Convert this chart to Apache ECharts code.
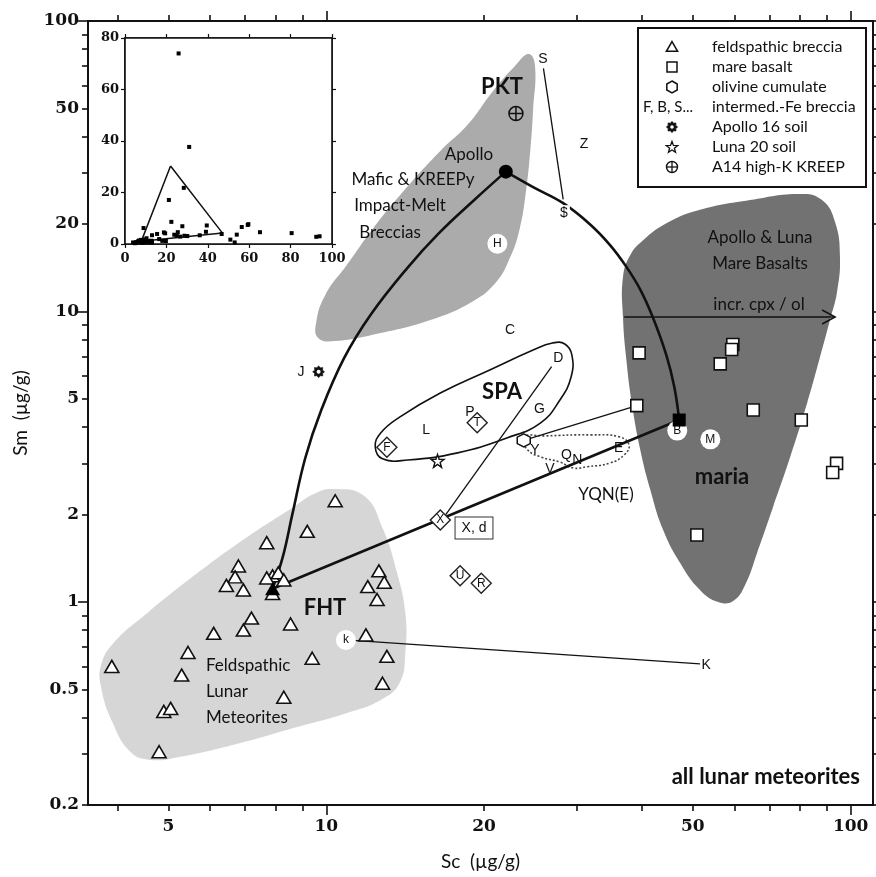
<!DOCTYPE html>
<html>
<head>
<meta charset="utf-8">
<script src="https://cdn.jsdelivr.net/npm/echarts@6/dist/echarts.min.js"></script>
<style>
  html, body { margin: 0; padding: 0; background: #fff; }
  #chart { width: 876px; height: 877px; }
</style>
</head>
<body>
<div id="chart"></div>
<script>
// ---------------------------------------------------------------
// Sc vs Sm (µg/g) in lunar meteorites, log–log, with linear inset
// ---------------------------------------------------------------

// axis ranges and ticks (µg/g)
const scMin = 3.513, scMax = 110.3;
const smMin = 0.2, smMax = 100;
const scMinorTicks = [4, 5, 6, 7, 8, 9, 20, 30, 40, 50, 60, 70, 80, 90];
const scMajorTicks = [10, 100];
const scTickLabels = [5, 10, 20, 50, 100];
const smMinorTicks = [0.2, 0.3, 0.4, 0.5, 0.6, 0.7, 0.8, 0.9, 2, 3, 4, 5, 6, 7, 8, 9, 20, 30, 40, 50, 60, 70, 80, 90];
const smMajorTicks = [1, 10, 100];
const smTickLabels = [0.2, 0.5, 1, 2, 5, 10, 20, 50, 100];

// feldspathic breccias
const feldSc = [10.4, 9.2, 7.7, 6.8, 6.7, 6.45, 6.95, 7.9, 8.1, 8.3, 7.7, 7.9, 12.6, 12.9, 12.0, 12.5,
                7.2, 6.95, 6.1, 8.55, 11.9, 5.45, 3.9, 5.3, 9.4, 13.05, 12.8, 8.3, 4.9, 5.05, 4.8];
const feldSm = [2.23, 1.75, 1.60, 1.33, 1.22, 1.14, 1.10, 1.23, 1.26, 1.19, 1.21, 1.07, 1.28, 1.17, 1.13, 1.02,
                0.88, 0.80, 0.78, 0.84, 0.77, 0.67, 0.60, 0.56, 0.64, 0.65, 0.525, 0.47, 0.42, 0.43, 0.305];

// mare basalts
const mareSc = [39.5, 59.6, 59.3, 56.4, 39.1, 65.2, 80.5, 94.0, 92.4, 50.9];
const mareSm = [7.2, 7.7, 7.4, 6.6, 4.74, 4.58, 4.23, 3.0, 2.79, 1.70];

// olivine cumulate
const olivSc = [23.8];
const olivSm = [3.6];

// intermediate-Fe breccias, labelled by letter
const fePlainNames = ['C', 'D', 'G', 'L', 'P', 'Y', 'Q', 'N', 'V', 'E', 'S', 'Z', '$', 'J', 'K'];
const fePlainSc = [22.4, 27.7, 25.5, 15.5, 18.8, 25.0, 28.7, 30.1, 26.7, 36.1, 25.9, 31.0, 28.4, 8.95, 53.0];
const fePlainSm = [8.6, 6.9, 4.6, 3.9, 4.5, 3.32, 3.2, 3.08, 2.86, 3.38, 74, 37.7, 21.8, 6.2, 0.607];

const feDiamondNames = ['F', 'T', 'X', 'U', 'R'];
const feDiamondSc = [13.05, 19.4, 16.5, 18.0, 19.75];
const feDiamondSm = [3.41, 4.14, 1.915, 1.23, 1.16];

const feCircleNames = ['H', 'k', 'B', 'M'];
const feCircleSc = [21.2, 10.9, 46.7, 54.0];
const feCircleSm = [17.1, 0.74, 3.89, 3.63];

// soils and KREEP
const a16SoilSc = [9.67], a16SoilSm = [6.2];
const l20SoilSc = [16.3], l20SoilSm = [3.06];
const kreepSc = [23.0], kreepSm = [48];

// mixing end members: Apollo mafic melt breccia, feldspathic highlands, mare basalt
const endSc = [22.0, 7.9, 47.1];
const endSm = [30.3, 1.11, 4.23];

// mixing curves
const mixAFSc = [22.0, 19.15, 16.35, 14.27, 12.18, 10.82, 9.78, 9.12, 8.61, 8.28, 7.9];
const mixAFSm = [30.3, 24.2, 18.5, 14.11, 9.80, 6.92, 4.57, 3.13, 1.99, 1.45, 1.11];
const mixAMSc = [22.0, 24.8, 28.3, 31.9, 34.8, 37.3, 39.7, 42.0, 44.5, 46.1, 47.1];
const mixAMSm = [30.3, 26.8, 23.6, 19.9, 16.9, 14.3, 11.9, 9.5, 7.09, 5.5, 4.23];
const mixFMSc = [7.9, 47.1];
const mixFMSm = [1.11, 4.23];

// tie lines between paired samples
const tieSc = [[25.95, 28.3], [26.9, 16.9], [10.9, 51.6], [23.8, 39.1]];
const tieSm = [[68.7, 24.3], [6.46, 2.0], [0.74, 0.612], [3.6, 4.74]];

// "incr. cpx / ol" arrow
const cpxArrowSc = [37.0, 93.4];
const cpxArrowSm = [9.57, 9.57];

// fields
const pktSc = [24.3, 25.0, 24.8, 24.5, 24.05, 23.4, 22.4, 21.0, 18.8, 15.8, 12.7, 10.4, 9.65, 9.57, 9.96, 10.96, 12.3, 14.1, 16.5, 18.6, 20.8, 22.9];
const pktSm = [77.0, 70.6, 49.4, 36.0, 26.2, 19.4, 15.3, 12.5, 10.7, 9.35, 8.43, 7.91, 8.11, 9.2, 11.4, 14.5, 19.4, 26.2, 35.7, 43.9, 57.4, 70.0];
const mariaSc = [80.1, 88.2, 93.4, 95.4, 94.2, 91.3, 87.4, 82.6, 76.7, 71.1, 66.3, 62.9, 59.7, 55.9, 51.6, 47.3, 43.9, 41.5, 39.7, 38.3, 37.3, 36.8, 36.8, 38.0, 40.2, 44.7, 51.6, 64.3];
const mariaSm = [25.4, 24.2, 20.3, 15.5, 11.7, 9.35, 6.97, 4.84, 3.16, 2.12, 1.475, 1.144, 1.008, 1.0, 1.10, 1.363, 1.77, 2.43, 3.34, 4.77, 6.97, 9.57, 13.15, 15.65, 17.6, 20.2, 22.4, 24.2];
const fhtSc = [10.3, 11.8, 12.8, 13.65, 14.15, 14.15, 13.8, 12.7, 10.96, 8.8, 6.86, 5.27, 4.62, 4.23, 3.91, 3.72, 3.72, 3.93, 4.56, 5.68, 7.07, 8.65, 9.45];
const fhtSm = [2.45, 2.32, 1.80, 1.258, 0.917, 0.668, 0.526, 0.46, 0.415, 0.371, 0.327, 0.293, 0.286, 0.305, 0.386, 0.51, 0.607, 0.723, 0.917, 1.258, 1.675, 2.12, 2.35];
const spaSc = [28.5, 29.4, 29.3, 27.9, 25.6, 22.1, 17.8, 14.3, 12.8, 12.4, 12.7, 13.8, 16.5, 20.5, 24.8, 27.0];
const spaSm = [7.73, 7.09, 5.95, 4.96, 4.13, 3.67, 3.26, 3.08, 3.11, 3.42, 3.82, 4.33, 5.24, 6.29, 7.37, 7.79];
const yqnSc = [23.7, 26.2, 31.9, 36.3, 37.8, 37.0, 34.8, 31.4, 29.6, 27.9, 25.6, 24.2];
const yqnSm = [3.70, 3.73, 3.76, 3.70, 3.47, 3.21, 3.01, 2.92, 2.89, 3.03, 3.16, 3.34];

// inset (linear) axis ticks
const insetScTicks = [0, 20, 40, 60, 80, 100];
const insetSmTicks = [0, 20, 40, 60, 80];

// ---------------------------------------------------------------
const L = Math.log10;
const INK = '#111';
const SERIF = 'DejaVu Serif';
const HUMANIST = 'Lato';
const SANS = 'Liberation Sans';

const logPts = (xs, ys) => xs.map((x, i) => [L(x), L(ys[i])]);
const named = (names, xs, ys) => names.map((n, i) => ({ name: n, value: [L(xs[i]), L(ys[i])] }));
const fmtLog = v => String(+Math.pow(10, v).toPrecision(2));

function logAxis(dim, position, ticks, tickLen, labels, nameOpts) {
  const lo = dim === 'x' ? scMin : smMin;
  const hi = dim === 'x' ? scMax : smMax;
  const ax = {
    type: 'value', gridIndex: 0, position,
    min: L(lo), max: L(hi),
    axisLine: { show: true, onZero: false, lineStyle: { color: INK, width: 2 } },
    axisTick: { show: true, inside: false, length: tickLen, customValues: ticks.map(L),
                lineStyle: { color: INK, width: 1.6 } },
    axisLabel: labels ? {
      show: true, customValues: labels.map(L), formatter: fmtLog,
      fontFamily: SERIF, fontWeight: 'bold', fontSize: 17, color: INK,
      margin: dim === 'x' ? 13 : 9
    } : { show: false },
    splitLine: { show: false }
  };
  return Object.assign(ax, nameOpts || {});
}

function linAxis(dim, position, max, ticks, labels) {
  return {
    type: 'value', gridIndex: 1, position, min: 0, max: max,
    axisLine: { show: true, onZero: false, lineStyle: { color: INK, width: 1.6 } },
    axisTick: { show: true, inside: false, length: 4, customValues: ticks, lineStyle: { color: INK, width: 1.2 } },
    axisLabel: labels ? {
      show: true, customValues: ticks,
      fontFamily: SERIF, fontWeight: 'bold', fontSize: 13, color: INK,
      margin: dim === 'x' ? 8 : 6
    } : { show: false },
    splitLine: { show: false }
  };
}

function fieldSeries(xs, ys, style, z) {
  return {
    type: 'custom', coordinateSystem: 'cartesian2d', xAxisIndex: 0, yAxisIndex: 0,
    silent: true, z: z, clip: false,
    data: [[L(xs[0]), L(ys[0])]],
    renderItem: (params, api) => ({
      type: 'polygon',
      shape: { points: xs.map((x, i) => api.coord([L(x), L(ys[i])])), smooth: 0.45 },
      style: style
    })
  };
}

const curve = (xs, ys) => ({
  type: 'line', xAxisIndex: 0, yAxisIndex: 0, data: logPts(xs, ys),
  smooth: 0.4, showSymbol: false, symbol: 'none', silent: true, z: 3,
  lineStyle: { color: INK, width: 2.6 }
});

const letterLabel = size => ({
  show: true, position: 'inside', formatter: p => p.name, opacity: 1,
  fontFamily: SANS, fontSize: size, color: INK
});

// symbol paths
const HEX_PATH = 'path://M8.66,0 L17.32,5 L17.32,15 L8.66,20 L0,15 L0,5 Z';
const STAR_PATH = 'path://M10,0 L12.35,6.76 L19.51,6.91 L13.8,11.24 L15.88,18.09 L10,14 L4.12,18.09 L6.2,11.24 L0.49,6.91 L7.65,6.76 Z';
const CROSS_CIRCLE_PATH = 'path://M0,10 A10,10 0 1 1 20,10 A10,10 0 1 1 0,10 Z M10,0 L10,20 M0,10 L20,10';
function gearPath() {
  let d = '';
  for (let i = 0; i < 16; i++) {
    const r = i % 2 === 0 ? 10 : 7.2;
    const a = Math.PI * 2 * i / 16;
    d += (i === 0 ? 'M' : 'L') + (10 + r * Math.cos(a)).toFixed(2) + ',' + (10 + r * Math.sin(a)).toFixed(2) + ' ';
  }
  return 'path://' + d + 'Z';
}
const GEAR_PATH = gearPath();

// inset points: every meteorite sample on linear scales
const insetSc = [].concat(feldSc, mareSc, olivSc, fePlainSc, feDiamondSc, feCircleSc);
const insetSm = [].concat(feldSm, mareSm, olivSm, fePlainSm, feDiamondSm, feCircleSm);

// ---------------------------------------------------------------
// legend and annotations drawn as graphics
function regPoly(cx, cy, rOut, rIn, n, rot) {
  const pts = [];
  const k = rIn ? 2 * n : n;
  for (let i = 0; i < k; i++) {
    const r = rIn && i % 2 ? rIn : rOut;
    const a = rot + Math.PI * 2 * i / k;
    pts.push([cx + r * Math.cos(a), cy + r * Math.sin(a)]);
  }
  return pts;
}

const legendRows = ['feldspathic breccia', 'mare basalt', 'olivine cumulate', 'intermed.-Fe breccia',
                    'Apollo 16 soil', 'Luna 20 soil', 'A14 high-K KREEP'];
const LG = { x: 638, y: 28, w: 228, h: 159, symX: 672, textX: 712, row0: 47, step: 20 };
const rowY = i => LG.row0 + LG.step * i;
const legendGraphics = [
  { type: 'rect', shape: { x: LG.x, y: LG.y, width: LG.w, height: LG.h },
    style: { fill: '#fff', stroke: INK, lineWidth: 2 }, z: 100 },
  ...legendRows.map((t, i) => ({
    type: 'text', x: LG.textX, y: rowY(i), z: 101,
    style: { text: t, font: '16px ' + HUMANIST, fill: INK, align: 'left', verticalAlign: 'middle' }
  })),
  { type: 'polygon', z: 101, shape: { points: regPoly(LG.symX, rowY(0) + 1, 6.5, 0, 3, -Math.PI / 2) },
    style: { fill: '#fff', stroke: INK, lineWidth: 1.5 } },
  { type: 'rect', z: 101, shape: { x: LG.symX - 5, y: rowY(1) - 5, width: 10, height: 10 },
    style: { fill: '#fff', stroke: INK, lineWidth: 1.5 } },
  { type: 'polygon', z: 101, shape: { points: regPoly(LG.symX, rowY(2), 6, 0, 6, -Math.PI / 2) },
    style: { fill: '#fff', stroke: INK, lineWidth: 1.5 } },
  { type: 'text', x: LG.symX - 4, y: rowY(3), z: 101,
    style: { text: 'F, B, S...', font: '15px ' + HUMANIST, fill: INK, align: 'center', verticalAlign: 'middle' } },
  { type: 'polygon', z: 101, shape: { points: regPoly(LG.symX, rowY(4), 5.5, 4, 8, 0) },
    style: { fill: INK, stroke: INK, lineWidth: 1 } },
  { type: 'circle', z: 102, shape: { cx: LG.symX, cy: rowY(4), r: 1.8 }, style: { fill: '#fff' } },
  { type: 'polygon', z: 101, shape: { points: regPoly(LG.symX, rowY(5) + 0.5, 6, 2.5, 5, -Math.PI / 2) },
    style: { fill: '#fff', stroke: INK, lineWidth: 1.3 } },
  { type: 'circle', z: 101, shape: { cx: LG.symX, cy: rowY(6), r: 5.5 },
    style: { fill: '#fff', stroke: INK, lineWidth: 1.4 } },
  { type: 'polyline', z: 102, shape: { points: [[LG.symX - 5.5, rowY(6)], [LG.symX + 5.5, rowY(6)]] },
    style: { stroke: INK, lineWidth: 1.3 } },
  { type: 'polyline', z: 102, shape: { points: [[LG.symX, rowY(6) - 5.5], [LG.symX, rowY(6) + 5.5]] },
    style: { stroke: INK, lineWidth: 1.3 } }
];

const note = (text, x, y, font, align) => ({
  type: 'text', x, y, z: 90,
  style: { text, font, fill: INK, align: align || 'center', verticalAlign: 'middle' }
});
const REG = '17px ' + HUMANIST;
const BOLD = 'bold 22px ' + HUMANIST;
const annotationGraphics = [
  note('PKT', 502, 87, BOLD),
  note('Apollo', 469, 155, REG),
  note('Mafic & KREEPy', 413, 180, REG),
  note('Impact-Melt', 400, 206, REG),
  note('Breccias', 390, 233, REG),
  note('Apollo & Luna', 760, 238, REG),
  note('Mare Basalts', 760, 264, REG),
  note('incr. cpx / ol', 759, 305, REG),
  note('SPA', 502, 392, BOLD),
  note('maria', 722, 477, BOLD),
  note('YQN(E)', 606, 495, REG),
  note('FHT', 325, 608, BOLD),
  note('Feldspathic', 206, 666, REG, 'left'),
  note('Lunar', 206, 692, REG, 'left'),
  note('Meteorites', 206, 718, REG, 'left'),
  note('all lunar meteorites', 860, 777, BOLD, 'right'),
  { type: 'text', x: 474, y: 528, z: 90,
    style: { text: 'X, d', font: '14px ' + SANS, fill: INK, align: 'center', verticalAlign: 'middle',
             backgroundColor: '#fff', borderColor: '#333', borderWidth: 1, padding: [4, 6, 3, 6] } }
];

const solid = extra => Object.assign({ opacity: 1 }, extra);

// ---------------------------------------------------------------
const chart = echarts.init(document.getElementById('chart'));

chart.setOption({
  animation: false,
  backgroundColor: '#fff',
  grid: [
    { left: 88, right: 3, top: 21, bottom: 72, containLabel: false, outerBoundsMode: 'none',
      show: true, backgroundColor: 'transparent', borderColor: INK, borderWidth: 2 },
    { left: 125, top: 38, width: 207, height: 206, containLabel: false, outerBoundsMode: 'none',
      show: true, backgroundColor: '#fff', borderColor: INK, borderWidth: 1.6, z: 6 }
  ],
  xAxis: [
    logAxis('x', 'bottom', scMinorTicks, 6, scTickLabels, {
      name: 'Sc  (\u00b5g/g)', nameLocation: 'middle', nameGap: 47,
      nameTextStyle: { fontFamily: HUMANIST, fontSize: 19, color: INK }
    }),
    logAxis('x', 'bottom', scMajorTicks, 10, null),
    logAxis('x', 'top', scMinorTicks, 6, null),
    logAxis('x', 'top', scMajorTicks, 10, null),
    linAxis('x', 'bottom', 100, insetScTicks, true),
    linAxis('x', 'top', 100, insetScTicks, false)
  ],
  yAxis: [
    logAxis('y', 'left', smMinorTicks, 6, smTickLabels, {
      name: 'Sm  (\u00b5g/g)', nameLocation: 'middle', nameGap: 58,
      nameTextStyle: { fontFamily: HUMANIST, fontSize: 19, color: INK }
    }),
    logAxis('y', 'left', smMajorTicks, 10, null),
    logAxis('y', 'right', smMinorTicks, 6, null),
    logAxis('y', 'right', smMajorTicks, 10, null),
    linAxis('y', 'left', 80, insetSmTicks, true),
    linAxis('y', 'right', 80, insetSmTicks, false)
  ],
  graphic: { elements: legendGraphics.concat(annotationGraphics) },
  series: [
    // fields
    fieldSeries(fhtSc, fhtSm, { fill: '#d6d6d6', stroke: null }, 1),
    fieldSeries(pktSc, pktSm, { fill: '#ababab', stroke: null }, 1),
    fieldSeries(mariaSc, mariaSm, { fill: '#727272', stroke: null }, 1),
    fieldSeries(spaSc, spaSm, { fill: null, stroke: INK, lineWidth: 1.6 }, 2),
    fieldSeries(yqnSc, yqnSm, { fill: null, stroke: '#444', lineWidth: 1.6, lineDash: [2, 2] }, 2),

    // compositional trend arrow
    {
      type: 'custom', coordinateSystem: 'cartesian2d', xAxisIndex: 0, yAxisIndex: 0, silent: true, z: 3,
      data: [[L(cpxArrowSc[0]), L(cpxArrowSm[0]), L(cpxArrowSc[1]), L(cpxArrowSm[1])]],
      renderItem: (params, api) => {
        const a = api.coord([api.value(0), api.value(1)]);
        const b = api.coord([api.value(2), api.value(3)]);
        return {
          type: 'group', children: [
            { type: 'line', shape: { x1: a[0], y1: a[1], x2: b[0], y2: b[1] }, style: { stroke: INK, lineWidth: 1.5 } },
            { type: 'polyline', shape: { points: [[b[0] - 13, b[1] - 7], [b[0], b[1]], [b[0] - 13, b[1] + 7]] },
              style: { stroke: INK, lineWidth: 1.5, fill: null } }
          ]
        };
      }
    },

    // tie lines
    {
      type: 'lines', coordinateSystem: 'cartesian2d', xAxisIndex: 0, yAxisIndex: 0, silent: true, z: 3,
      lineStyle: { color: INK, width: 1.3, opacity: 1 },
      data: tieSc.map((xs, i) => ({ coords: [[L(xs[0]), L(tieSm[i][0])], [L(xs[1]), L(tieSm[i][1])]] }))
    },

    // mixing lines
    curve(mixAFSc, mixAFSm),
    curve(mixAMSc, mixAMSm),
    Object.assign(curve(mixFMSc, mixFMSm), { smooth: false }),

    // samples
    {
      type: 'scatter', name: 'feldspathic breccia', xAxisIndex: 0, yAxisIndex: 0, z: 4,
      symbol: 'triangle', symbolSize: [14, 12],
      itemStyle: solid({ color: '#fff', borderColor: INK, borderWidth: 1.6 }),
      data: logPts(feldSc, feldSm)
    },
    {
      type: 'scatter', name: 'mare basalt', xAxisIndex: 0, yAxisIndex: 0, z: 4,
      symbol: 'rect', symbolSize: 12,
      itemStyle: solid({ color: '#fff', borderColor: INK, borderWidth: 1.6 }),
      data: logPts(mareSc, mareSm)
    },
    {
      type: 'scatter', name: 'olivine cumulate', xAxisIndex: 0, yAxisIndex: 0, z: 4,
      symbol: HEX_PATH, symbolSize: 13,
      itemStyle: solid({ color: '#fff', borderColor: INK, borderWidth: 1.5 }),
      data: logPts(olivSc, olivSm)
    },
    {
      type: 'scatter', name: 'intermed.-Fe breccia', xAxisIndex: 0, yAxisIndex: 0, z: 5,
      symbol: 'circle', symbolSize: 2, itemStyle: { color: 'rgba(0,0,0,0)', opacity: 1 },
      label: letterLabel(14),
      data: named(fePlainNames, fePlainSc, fePlainSm).map(d =>
        d.name === '$' ? Object.assign(d, { label: { backgroundColor: '#fff', padding: [1, 2] } }) : d)
    },
    {
      type: 'scatter', name: 'intermed.-Fe breccia (diamond)', xAxisIndex: 0, yAxisIndex: 0, z: 5,
      symbol: 'diamond', symbolSize: 20,
      itemStyle: solid({ color: '#fff', borderColor: '#222', borderWidth: 1.4 }),
      label: letterLabel(12),
      data: named(feDiamondNames, feDiamondSc, feDiamondSm)
    },
    {
      type: 'scatter', name: 'intermed.-Fe breccia (circle)', xAxisIndex: 0, yAxisIndex: 0, z: 5,
      symbol: 'circle', symbolSize: 20,
      itemStyle: solid({ color: '#fff', borderWidth: 0 }),
      label: letterLabel(12),
      data: named(feCircleNames, feCircleSc, feCircleSm)
    },
    {
      type: 'scatter', name: 'Apollo 16 soil', xAxisIndex: 0, yAxisIndex: 0, z: 5,
      symbol: GEAR_PATH, symbolSize: 12,
      itemStyle: solid({ color: INK, borderColor: INK, borderWidth: 0.5 }),
      data: logPts(a16SoilSc, a16SoilSm)
    },
    {
      type: 'scatter', name: 'Apollo 16 soil core', xAxisIndex: 0, yAxisIndex: 0, z: 6,
      symbol: 'circle', symbolSize: 4, itemStyle: solid({ color: '#fff' }),
      data: logPts(a16SoilSc, a16SoilSm)
    },
    {
      type: 'scatter', name: 'Luna 20 soil', xAxisIndex: 0, yAxisIndex: 0, z: 5,
      symbol: STAR_PATH, symbolSize: 13,
      itemStyle: solid({ color: '#fff', borderColor: INK, borderWidth: 1.4 }),
      data: logPts(l20SoilSc, l20SoilSm)
    },
    {
      type: 'scatter', name: 'A14 high-K KREEP', xAxisIndex: 0, yAxisIndex: 0, z: 5,
      symbol: CROSS_CIRCLE_PATH, symbolSize: 14,
      itemStyle: solid({ color: 'rgba(0,0,0,0)', borderColor: INK, borderWidth: 1.5 }),
      data: logPts(kreepSc, kreepSm)
    },

    // mixing end members
    {
      type: 'scatter', name: 'end members', xAxisIndex: 0, yAxisIndex: 0, z: 6,
      itemStyle: solid({ color: '#000' }),
      data: [
        { value: [L(endSc[0]), L(endSm[0])], symbol: 'circle', symbolSize: 14 },
        { value: [L(endSc[1]), L(endSm[1])], symbol: 'triangle', symbolSize: [15, 13] },
        { value: [L(endSc[2]), L(endSm[2])], symbol: 'rect', symbolSize: 13 }
      ]
    },

    // inset: linear scales
    {
      type: 'line', xAxisIndex: 4, yAxisIndex: 4, z: 7, silent: true,
      showSymbol: false, symbol: 'none',
      lineStyle: { color: INK, width: 1.5 },
      data: [[endSc[0], endSm[0]], [endSc[1], endSm[1]], [endSc[2], endSm[2]], [endSc[0], endSm[0]]]
    },
    {
      type: 'scatter', xAxisIndex: 4, yAxisIndex: 4, z: 8, silent: true,
      symbol: 'rect', symbolSize: 4, itemStyle: solid({ color: '#000' }),
      data: insetSc.map((x, i) => [x, insetSm[i]])
    }
  ]
});
</script>
</body>
</html>
